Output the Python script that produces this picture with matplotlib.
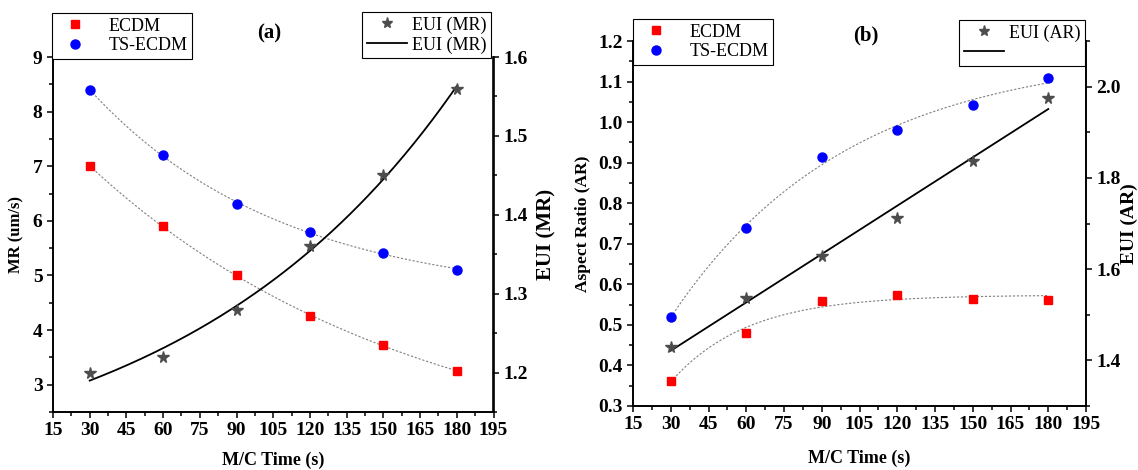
import numpy as np
import matplotlib
matplotlib.use("Agg")
import matplotlib.pyplot as plt
from matplotlib.ticker import MultipleLocator
from matplotlib.lines import Line2D

plt.rcParams['font.family'] = ['Liberation Serif', 'DejaVu Serif']

# ---- data ----
time_s = [30, 60, 90, 120, 150, 180]

mr_ecdm = [7.0, 5.9, 5.0, 4.25, 3.73, 3.25]
mr_tsecdm = [8.4, 7.2, 6.3, 5.8, 5.42, 5.1]
eui_mr = [1.199, 1.22, 1.279, 1.36, 1.45, 1.56]

ar_ecdm = [0.362, 0.48, 0.56, 0.573, 0.565, 0.562]
ar_tsecdm = [0.519, 0.739, 0.915, 0.981, 1.041, 1.109]
eui_ar = [1.429, 1.537, 1.628, 1.711, 1.837, 1.974]

x_ticks = [15, 30, 45, 60, 75, 90, 105, 120, 135, 150, 165, 180, 195]

RED = '#ff0000'
BLUE = '#0000ff'
GRAY = '#4d4d4d'
FITC = '#808080'


def exp_fit(x, y, ks):
    """Fit y = A + B*exp(k*x) by grid search over k (least squares for A, B)."""
    x = np.asarray(x, float)
    y = np.asarray(y, float)
    best = None
    for k in ks:
        M = np.column_stack([np.ones_like(x), np.exp(k * x)])
        coef, *_ = np.linalg.lstsq(M, y, rcond=None)
        r = np.sum((M @ coef - y) ** 2)
        if best is None or r < best[0]:
            best = (r, k, coef)
    _, k, coef = best
    return lambda t: coef[0] + coef[1] * np.exp(k * t)


xs = np.linspace(30, 180, 200)
neg_ks = np.linspace(-0.06, -0.001, 600)
pos_ks = np.linspace(0.001, 0.06, 600)

W, H = 1138, 470
fig = plt.figure(figsize=(W / 100, H / 100), dpi=100)


def fx(px):
    return px / W


def fy(py):
    return 1 - py / H


TICK_FS = 14


def style_axes(ax, ax2):
    ax.set_xlim(15, 195)
    ax.set_xticks(x_ticks)
    ax.xaxis.set_minor_locator(MultipleLocator(7.5))
    for a in (ax, ax2):
        a.spines['top'].set_visible(False)
        for s in a.spines.values():
            s.set_linewidth(1.2)
        a.tick_params(which='both', direction='out', labelsize=TICK_FS, width=1.1)
        a.tick_params(which='major', length=4.5, pad=3)
        a.tick_params(which='minor', length=3)
        for lab in a.get_xticklabels() + a.get_yticklabels():
            lab.set_fontweight('bold')


def add_legend(handles, labels, anchor, loc, hl, htp):
    leg = fig.legend(handles, labels, loc=loc,
                     bbox_to_anchor=(fx(anchor[0]), fy(anchor[1])),
                     bbox_transform=fig.transFigure,
                     fancybox=False, edgecolor='black', framealpha=1, fontsize=13,
                     borderaxespad=0, handlelength=hl, handletextpad=htp,
                     borderpad=0.25, labelspacing=0.15)
    leg.get_frame().set_linewidth(0.8)
    return leg


h_pts = [Line2D([], [], marker='s', color=RED, ls='none', ms=6),
         Line2D([], [], marker='o', color=BLUE, ls='none', ms=6.5)]
h_eui = [Line2D([], [], marker='*', color=GRAY, ls='none', ms=8),
         Line2D([], [], color='black', lw=1.3)]

# ---------------- panel (a) ----------------
axa = fig.add_axes([fx(53), fy(412), fx(493.5 - 53), (412 - 57) / H])
axa2 = axa.twinx()

fa1 = exp_fit(time_s, mr_ecdm, neg_ks)
fa2 = exp_fit(time_s, mr_tsecdm, neg_ks)
fa3 = exp_fit(time_s, eui_mr, pos_ks)

axa.plot(xs, fa1(xs), ls=(0, (2, 1.6)), color=FITC, lw=0.8)
axa.plot(xs, fa2(xs), ls=(0, (2, 1.6)), color=FITC, lw=0.8)
axa.plot(time_s, mr_ecdm, 's', color=RED, ms=6, zorder=5)
axa.plot(time_s, mr_tsecdm, 'o', color=BLUE, ms=6.5, zorder=5)
axa2.plot(xs, fa3(xs), '-', color='black', lw=1.3)
axa2.plot(time_s, eui_mr, '*', color=GRAY, ms=8.5, zorder=5)

axa.set_ylim(2.5, 9)
axa.set_yticks([3, 4, 5, 6, 7, 8, 9])
axa.yaxis.set_minor_locator(MultipleLocator(0.5))
axa2.set_ylim(1.15, 1.6)
axa2.set_yticks([1.2, 1.3, 1.4, 1.5, 1.6])
axa2.yaxis.set_minor_locator(MultipleLocator(0.05))
style_axes(axa, axa2)

axa.set_xlabel('M/C Time (s)', fontsize=13, fontweight='bold', labelpad=9)
axa.set_ylabel('MR (um/s)', fontsize=12, fontweight='bold', labelpad=6)
axa2.set_ylabel('EUI (MR)', fontsize=15, fontweight='bold', labelpad=6)
fig.text(fx(269), fy(33), '(a)', fontsize=15, fontweight='bold', ha='center', va='center')

add_legend(h_pts, ['ECDM', 'TS-ECDM'], (52, 13), 'upper left', 2.0, 0.9)
add_legend(h_eui, ['EUI (MR)', 'EUI (MR)'], (491, 12), 'upper right', 2.2, 0.3)

# ---------------- panel (b) ----------------
axb = fig.add_axes([fx(633), fy(406), fx(1086 - 633), (406 - 41) / H])
axb2 = axb.twinx()

fb1 = exp_fit(time_s, ar_ecdm, neg_ks)
fb2 = exp_fit(time_s, ar_tsecdm, neg_ks)
lin = np.polyfit(time_s, eui_ar, 1)

axb.plot(xs, fb1(xs), ls=(0, (2, 1.6)), color=FITC, lw=0.8)
axb.plot(xs, fb2(xs), ls=(0, (2, 1.6)), color=FITC, lw=0.8)
axb.plot(time_s, ar_ecdm, 's', color=RED, ms=6, zorder=5)
axb.plot(time_s, ar_tsecdm, 'o', color=BLUE, ms=6.5, zorder=5)
axb2.plot(xs, np.polyval(lin, xs), '-', color='black', lw=1.3)
axb2.plot(time_s, eui_ar, '*', color=GRAY, ms=8.5, zorder=5)

axb.set_ylim(0.3, 1.2)
axb.set_yticks([0.3, 0.4, 0.5, 0.6, 0.7, 0.8, 0.9, 1.0, 1.1, 1.2])
axb.yaxis.set_minor_locator(MultipleLocator(0.05))
axb2.set_ylim(1.3, 2.1)
axb2.set_yticks([1.4, 1.6, 1.8, 2.0])
axb2.yaxis.set_minor_locator(MultipleLocator(0.1))
style_axes(axb, axb2)

axb.set_xlabel('M/C Time (s)', fontsize=13, fontweight='bold', labelpad=12)
axb.set_ylabel('Aspect Ratio (AR)', fontsize=12.5, fontweight='bold', labelpad=5)
axb2.set_ylabel('EUI (AR)', fontsize=14, fontweight='bold', labelpad=0)
fig.text(fx(866), fy(35), '(b)', fontsize=15, fontweight='bold', ha='center', va='center')

add_legend(h_pts, ['ECDM', 'TS-ECDM'], (633, 19), 'upper left', 2.0, 0.9)
add_legend(h_eui, ['EUI (AR)', ''], (1085, 20), 'upper right', 2.2, 0.3)

fig.savefig('out.png', dpi=100, facecolor='white')
